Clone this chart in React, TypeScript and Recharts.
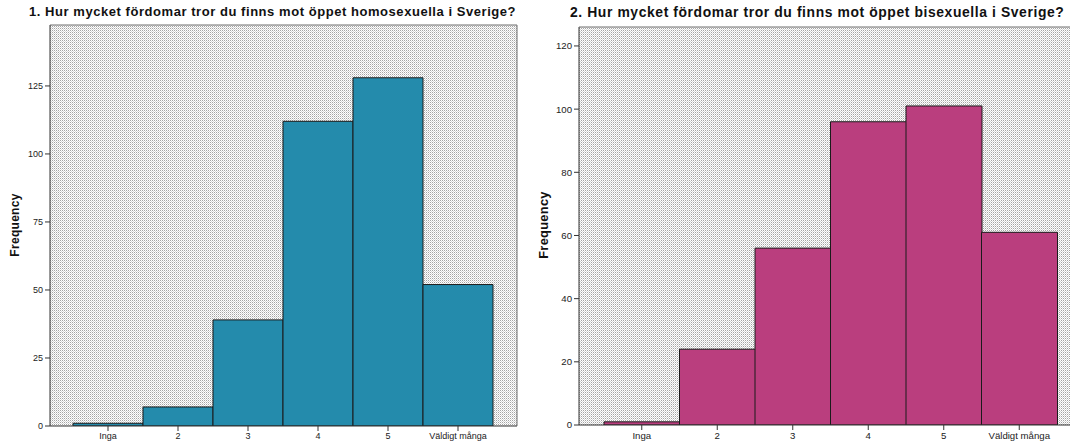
import { Bar, BarChart, CartesianGrid, XAxis, YAxis } from "recharts";

const categories = ["Inga", "2", "3", "4", "5", "Väldigt många"];
const homoCounts = [1, 7, 39, 112, 128, 52];
const biCounts = [1, 24, 56, 96, 101, 61];
const homoTicks = [0, 25, 50, 75, 100, 125];
const biTicks = [0, 20, 40, 60, 80, 100, 120];

const FONT = "Arial, 'Liberation Sans', sans-serif";

type PanelProps = {
  id: string;
  title: string;
  values: number[];
  ticks: number[];
  yMax: number;
  color: string;
  left: number;
  width: number;
  top: number;
  bottom: number;
  marginRight: number;
  padX: [number, number];
  titleLeft: number;
  labelX: number;
  scale: number;
};

// frame lines at the top and right edge of the plot area
const topEdge = ({ offset }: any) => [offset.top];
const rightEdge = ({ offset }: any) => [offset.left + offset.width];

function Panel(p: PanelProps) {
  const data = categories.map((c, i) => ({ name: c, value: p.values[i] }));
  const tickFont = { fontSize: 9 * p.scale, fill: "#222", fontFamily: FONT };
  return (
    <>
      <div
        style={{
          position: "absolute",
          left: p.titleLeft,
          top: 4,
          fontFamily: FONT,
          fontWeight: "bold",
          fontSize: 13 * p.scale,
          letterSpacing: 0.55 * p.scale,
          color: "#111",
          whiteSpace: "nowrap",
        }}
      >
        {p.title}
      </div>
      <div
        style={{
          position: "absolute",
          left: p.labelX,
          top: 225,
          transform: "translate(-50%, -50%) rotate(-90deg)",
          fontFamily: FONT,
          fontWeight: "bold",
          fontSize: 12 * p.scale,
          letterSpacing: 0.3,
          color: "#111",
        }}
      >
        Frequency
      </div>
      <div style={{ position: "absolute", left: p.left, top: 0 }}>
        <BarChart
          width={p.width}
          height={443}
          data={data}
          barCategoryGap={0}
          margin={{ top: p.top, right: p.marginRight, bottom: p.bottom, left: 0 }}
        >
          <defs>
            <pattern id={`dots-${p.id}`} width={2} height={2} patternUnits="userSpaceOnUse">
              <rect width={2} height={2} fill="#ffffff" />
              <rect x={0} y={0} width={1} height={1} fill="#a4a4a4" />
              <rect x={1} y={1} width={1} height={1} fill="#d6d6d6" />
            </pattern>
          </defs>
          <CartesianGrid
            fill={`url(#dots-${p.id})`}
            stroke="#6e6e6e"
            horizontalCoordinatesGenerator={topEdge}
            verticalCoordinatesGenerator={rightEdge}
          />
          <XAxis
            dataKey="name"
            padding={{ left: p.padX[0], right: p.padX[1] }}
            height={18}
            tickSize={5}
            tickMargin={2}
            interval={0}
            stroke="#333"
            tick={tickFont}
          />
          <YAxis
            domain={[0, p.yMax]}
            ticks={p.ticks}
            width={50}
            tickSize={5}
            tickMargin={2}
            stroke="#333"
            tick={tickFont}
            allowDataOverflow
          />
          <Bar
            dataKey="value"
            fill={p.color}
            stroke="#1b1b1b"
            strokeWidth={1}
            isAnimationActive={false}
          />
        </BarChart>
      </div>
    </>
  );
}

export default function App() {
  return (
    <div
      style={{
        position: "fixed",
        left: 0,
        top: 0,
        width: 1070,
        height: 443,
        overflow: "hidden",
        background: "#fff",
      }}
    >
      <Panel
        id="homo"
        title="1. Hur mycket fördomar tror du finns mot öppet homosexuella i Sverige?"
        values={homoCounts}
        ticks={homoTicks}
        yMax={147.4}
        color="#248bac"
        left={0}
        width={535}
        top={25}
        bottom={-1}
        marginRight={18}
        padX={[23, 24]}
        titleLeft={29}
        labelX={15}
        scale={1}
      />
      <Panel
        id="bi"
        title="2. Hur mycket fördomar tror du finns mot öppet bisexuella i Sverige?"
        values={biCounts}
        ticks={biTicks}
        yMax={126}
        color="#ba3e7e"
        left={529}
        width={553}
        top={27}
        bottom={0}
        marginRight={0}
        padX={[25, 25]}
        titleLeft={570}
        labelX={543}
        scale={1.07}
      />
    </div>
  );
}
